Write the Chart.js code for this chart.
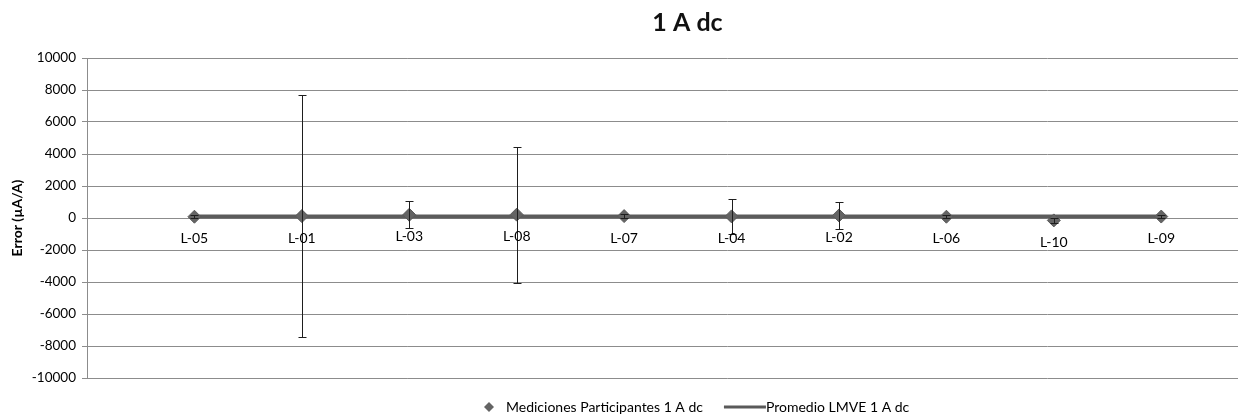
<!DOCTYPE html>
<html>
<head>
<meta charset="utf-8">
<script src="https://cdn.jsdelivr.net/npm/chart.js@4/dist/chart.umd.min.js"></script>
<style>
  html, body { margin: 0; padding: 0; background: #fff; overflow: hidden; }
  #wrap { width: 1375px; height: 420px; }
</style>
</head>
<body>
<div id="wrap"><canvas id="c" width="1375" height="420"></canvas></div>
<script>
// Participants (in plotting order) and their measured error, µA/A
const labs = ['L-05', 'L-01', 'L-03', 'L-08', 'L-07', 'L-04', 'L-02', 'L-06', 'L-10', 'L-09'];
const positions = [1, 2, 3, 4, 5, 6, 7, 8, 9, 10];
const errorValues = [80, 120, 200, 210, 120, 100, 160, 80, -150, 90];
// Expanded uncertainty of each participant, µA/A (symmetric)
const uncertainties = [100, 7560, 850, 4250, 120, 1100, 820, 100, 150, 100];
// Reference mean
const promedio = [100, 100, 100, 100, 100, 100, 100, 100, 100, 100];
const yTicks = [-10000, -8000, -6000, -4000, -2000, 0, 2000, 4000, 6000, 8000, 10000];

const FONT = 'Lato, "Open Sans", "Liberation Sans", sans-serif';
const seriesMed = 'Mediciones Participantes 1 A dc';
const seriesProm = 'Promedio LMVE 1 A dc';

// error bars and point labels
const errorBarPlugin = {
  id: 'errorBars',
  afterDatasetsDraw(chart) {
    const { ctx, scales: { x, y } } = chart;
    ctx.save();
    ctx.strokeStyle = '#1e1e1e';
    ctx.lineWidth = 1;
    positions.forEach((p, i) => {
      const px = Math.round(x.getPixelForValue(p)) + 0.5;
      const top = Math.round(y.getPixelForValue(errorValues[i] + uncertainties[i])) + 0.5;
      const bot = Math.round(y.getPixelForValue(errorValues[i] - uncertainties[i])) + 0.5;
      ctx.beginPath();
      ctx.moveTo(px, top); ctx.lineTo(px, bot);
      ctx.moveTo(px - 4, top); ctx.lineTo(px + 4, top);
      ctx.moveTo(px - 4, bot); ctx.lineTo(px + 4, bot);
      ctx.stroke();
    });
    ctx.fillStyle = '#000';
    ctx.font = '14px ' + FONT;
    ctx.textAlign = 'center';
    ctx.textBaseline = 'middle';
    positions.forEach((p, i) => {
      const px = x.getPixelForValue(p);
      const py = y.getPixelForValue(errorValues[i]);
      ctx.fillText(labs[i], px, py + 22);
    });
    ctx.restore();
  }
};

// legend row under the plot
const legendPlugin = {
  id: 'bottomLegend',
  afterDraw(chart) {
    const { ctx } = chart;
    const cy = 407;
    let cx = 489;
    ctx.save();
    ctx.font = '14px ' + FONT;
    ctx.textBaseline = 'middle';
    ctx.textAlign = 'left';
    ctx.fillStyle = '#646464';
    ctx.beginPath();
    ctx.moveTo(cx, cy - 5); ctx.lineTo(cx + 5, cy); ctx.lineTo(cx, cy + 5); ctx.lineTo(cx - 5, cy);
    ctx.closePath(); ctx.fill();
    ctx.fillStyle = '#000';
    ctx.fillText(seriesMed, cx + 17, cy);
    cx = cx + 17 + ctx.measureText(seriesMed).width + 21;
    ctx.strokeStyle = '#5a5a5a';
    ctx.lineWidth = 3;
    ctx.beginPath(); ctx.moveTo(cx, cy); ctx.lineTo(cx + 42, cy); ctx.stroke();
    ctx.fillText(seriesProm, cx + 42, cy);
    ctx.restore();
  }
};

new Chart(document.getElementById('c'), {
  type: 'scatter',
  data: {
    datasets: [
      {
        label: seriesMed,
        data: positions.map((p, i) => ({ x: p, y: errorValues[i] })),
        pointStyle: 'rectRot',
        pointRadius: 6.5,
        backgroundColor: '#646464',
        borderColor: '#5a5a5a',
        borderWidth: 1,
        order: 1
      },
      {
        label: seriesProm,
        type: 'line',
        data: positions.map((p, i) => ({ x: p, y: promedio[i] })),
        borderColor: '#5c5c5c',
        borderWidth: 4,
        pointRadius: 0,
        showLine: true,
        order: 2
      }
    ]
  },
  options: {
    responsive: false,
    animation: false,
    devicePixelRatio: 1,
    layout: { padding: { left: 0, right: 0, top: 0, bottom: 42 } },
    plugins: {
      legend: { display: false },
      tooltip: { enabled: false },
      title: {
        display: true,
        text: '1 A dc',
        color: '#111',
        font: { family: FONT, size: 25, weight: 'bold' },
        padding: { top: 8, bottom: 20 }
      }
    },
    scales: {
      x: { type: 'linear', min: 0, max: 11.92, display: false },
      y: {
        min: -10000,
        max: 10000,
        afterBuildTicks: s => { s.ticks = yTicks.map(v => ({ value: v })); },
        afterFit: s => { s.width = 87; },
        ticks: {
          callback: v => String(v),
          color: '#000',
          font: { family: FONT, size: 13.5 },
          padding: 6
        },
        grid: { color: '#8c8c8c', lineWidth: 1, tickLength: 5 },
        border: { color: '#8c8c8c' },
        title: {
          display: true,
          text: 'Error (µA/A)',
          color: '#000',
          font: { family: FONT, size: 14, weight: 'bold' },
          padding: { top: 9, bottom: 0 }
        }
      }
    }
  },
  plugins: [errorBarPlugin, legendPlugin]
});
</script>
</body>
</html>
